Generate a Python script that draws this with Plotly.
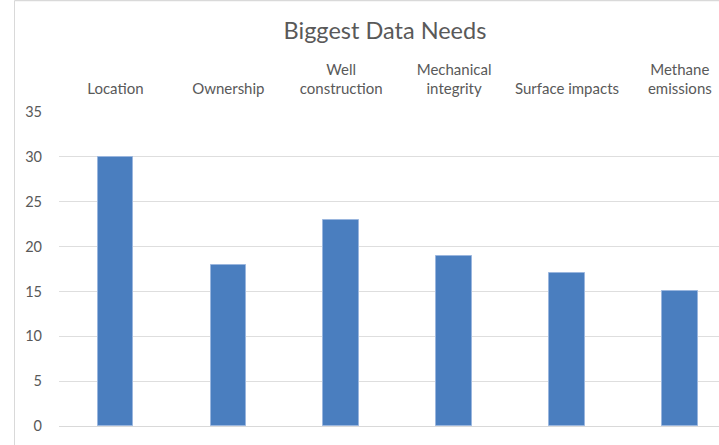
import plotly.graph_objects as go

categories = ["Location", "Ownership", "Well<br>construction", "Mechanical<br>integrity",
              "Surface impacts", "Methane<br>emissions"]
counts = [30, 18, 23, 19, 17, 15]
y_ticks = [0, 5, 10, 15, 20, 25, 30, 35]

W, H = 719, 445
L, R, T, B = 59, 0, 112, 19

fig = go.Figure(go.Bar(
    x=list(range(len(categories))),
    y=counts,
    width=0.315,
    marker=dict(color="#4a7ebf", line=dict(color="#9ab6de", width=1)),
))

fig.update_layout(
    width=W, height=H,
    margin=dict(l=L, r=R, t=T, b=B),
    paper_bgcolor="white", plot_bgcolor="white",
    font=dict(family="Lato, Carlito, sans-serif", color="#595959", size=15),
    showlegend=False,
    bargap=0,
    title=dict(text="Biggest Data Needs", x=385 / W, xanchor="center",
               y=1 - 31 / H, yanchor="middle",
               font=dict(size=23.5, color="#595959")),
    xaxis=dict(
        side="top",
        tickmode="array",
        tickvals=list(range(len(categories))),
        ticktext=categories,
        range=[-0.5, 5.347],
        showgrid=False, zeroline=False, showline=False,
        ticks="", ticklabelstandoff=14,
        tickfont=dict(size=15, color="#595959"),
    ),
    yaxis=dict(
        range=[0, 35],
        tickmode="array", tickvals=y_ticks,
        showgrid=True, gridcolor="#dedede", gridwidth=1,
        zeroline=True, zerolinecolor="#d9d9d9", zerolinewidth=1,
        showline=False, ticks="", ticklabelstandoff=16,
        tickfont=dict(size=14.5, color="#595959"),
    ),
    shapes=[
        dict(type="line", xref="paper", yref="paper",
             x0=(14.5 - L) / (W - L - R), x1=(14.5 - L) / (W - L - R),
             y0=-0.2, y1=(H - 0.5 - B) / (H - T - B),
             line=dict(color="#d9d9d9", width=1)),
        dict(type="line", xref="paper", yref="paper",
             x0=(14.5 - L) / (W - L - R), x1=1.05,
             y0=(H - 0.5 - B) / (H - T - B), y1=(H - 0.5 - B) / (H - T - B),
             line=dict(color="#d9d9d9", width=1.5)),
    ],
)

fig.write_html("out.html")
